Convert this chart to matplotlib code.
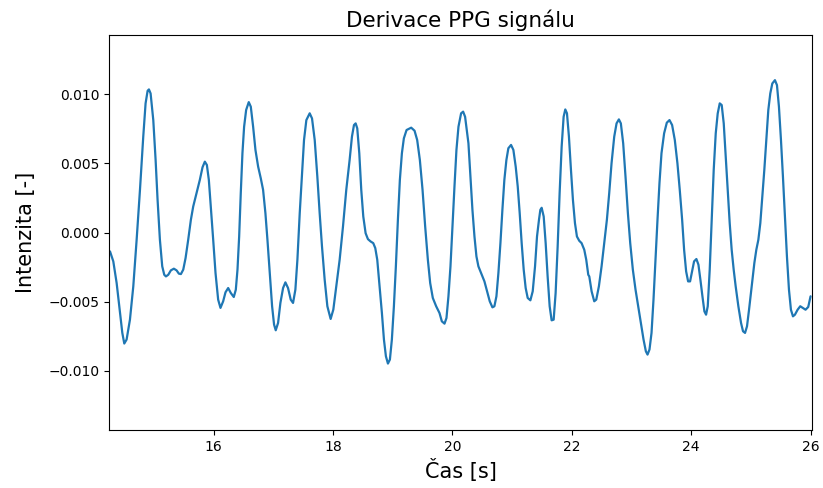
import matplotlib
matplotlib.use("Agg")
import matplotlib.pyplot as plt
from matplotlib.ticker import FuncFormatter
import numpy as np

plt.rcParams["axes.unicode_minus"] = True

time_s = [
    14.262, 14.317, 14.373, 14.429, 14.468, 14.501, 14.540, 14.596, 14.652, 14.708,
    14.764, 14.819, 14.858, 14.892, 14.914, 14.942, 14.987, 15.026, 15.059, 15.098,
    15.137, 15.171, 15.199, 15.238, 15.282, 15.332, 15.377, 15.416, 15.450, 15.489,
    15.528, 15.572, 15.617, 15.656, 15.712, 15.767, 15.812, 15.851, 15.885, 15.918,
    15.951, 15.991, 16.030, 16.074, 16.113, 16.158, 16.197,
    16.242, 16.286, 16.336, 16.370, 16.398, 16.426, 16.453, 16.481, 16.509, 16.543,
    16.587, 16.621, 16.660, 16.699, 16.744, 16.788, 16.827, 16.866, 16.900, 16.939,
    16.978, 17.011, 17.039, 17.078, 17.117, 17.162, 17.201, 17.245, 17.290, 17.329,
    17.368, 17.402, 17.441, 17.480, 17.513, 17.552, 17.608, 17.647, 17.692, 17.736,
    17.775, 17.814, 17.859, 17.904, 17.959, 18.004, 18.054, 18.110, 18.166, 18.221,
    18.277, 18.316, 18.350, 18.378, 18.405, 18.439, 18.472, 18.506, 18.545, 18.584,
    18.629, 18.673, 18.707, 18.740, 18.779, 18.818, 18.852, 18.885, 18.919, 18.952,
    18.985, 19.019, 19.052, 19.086, 19.119, 19.153, 19.186, 19.231, 19.309, 19.365,
    19.409, 19.454, 19.499, 19.543, 19.588, 19.627, 19.671, 19.727, 19.783, 19.822,
    19.867, 19.900, 19.933, 19.967, 20.000, 20.034, 20.067, 20.101, 20.145, 20.179,
    20.212, 20.246,
    20.268, 20.302, 20.335, 20.369, 20.402, 20.435, 20.480, 20.536, 20.580, 20.625,
    20.670, 20.703, 20.737, 20.770, 20.804, 20.837, 20.870, 20.904, 20.937, 20.982,
    21.021, 21.060, 21.094, 21.127, 21.160, 21.194, 21.227, 21.261, 21.306, 21.345,
    21.384, 21.417, 21.450, 21.473, 21.495, 21.529, 21.562, 21.595, 21.629, 21.662,
    21.696, 21.729, 21.763, 21.796, 21.830, 21.863, 21.891, 21.919, 21.952, 21.986,
    22.019, 22.053, 22.086, 22.125, 22.164, 22.209, 22.242, 22.276,
    22.293, 22.332, 22.376, 22.410, 22.454, 22.499, 22.544, 22.588, 22.627, 22.666,
    22.711, 22.750, 22.789, 22.822, 22.861, 22.900, 22.940, 22.979, 23.023, 23.068,
    23.112, 23.157, 23.202, 23.241, 23.269, 23.302, 23.336, 23.369, 23.402, 23.436,
    23.469, 23.503, 23.547, 23.592, 23.637, 23.681, 23.726, 23.770, 23.809, 23.849,
    23.882, 23.916, 23.949, 23.982, 24.016, 24.049, 24.088, 24.122, 24.155, 24.189,
    24.222, 24.250, 24.278,
    24.311, 24.345, 24.378, 24.412, 24.445, 24.479, 24.512, 24.546, 24.579, 24.613,
    24.646, 24.679, 24.713, 24.746, 24.791, 24.836, 24.869, 24.903, 24.936, 24.970,
    25.014, 25.059, 25.092, 25.126, 25.159, 25.193, 25.226, 25.259, 25.293, 25.326,
    25.360, 25.404, 25.438, 25.471, 25.505, 25.538, 25.572, 25.605, 25.639, 25.672,
    25.706, 25.739, 25.784, 25.828, 25.873, 25.917, 25.962, 26.001,
]

intensity = [
    -0.00137, -0.00209, -0.00366, -0.00583, -0.00727, -0.00804, -0.00775, -0.00631, -0.00390, -0.00053,
    0.00309, 0.00694, 0.00935, 0.01026, 0.01036, 0.01007, 0.00814, 0.00525, 0.00236, -0.00053,
    -0.00245, -0.00306, -0.00318, -0.00306, -0.00274, -0.00262, -0.00274, -0.00298, -0.00301, -0.00269,
    -0.00185, -0.00053, 0.00092, 0.00188, 0.00285, 0.00381, 0.00472, 0.00513, 0.00489, 0.00381,
    0.00188, -0.00053, -0.00294, -0.00486, -0.00546, -0.00498, -0.00433,
    -0.00402, -0.00438, -0.00467, -0.00414, -0.00269, -0.00029, 0.00285, 0.00574, 0.00766, 0.00887,
    0.00944, 0.00911, 0.00766, 0.00598, 0.00477, 0.00393, 0.00309, 0.00140, -0.00053, -0.00294,
    -0.00534, -0.00667, -0.00708, -0.00655, -0.00510, -0.00402, -0.00361, -0.00402, -0.00486, -0.00510,
    -0.00414, -0.00197, 0.00140, 0.00429, 0.00670, 0.00814, 0.00863, 0.00826, 0.00670, 0.00405,
    0.00140, -0.00101, -0.00342, -0.00534, -0.00626, -0.00558, -0.00390, -0.00197, 0.00044, 0.00309,
    0.00525, 0.00694, 0.00778, 0.00790, 0.00754, 0.00574, 0.00309, 0.00116, -0.00005, -0.00048,
    -0.00065, -0.00077, -0.00113, -0.00197, -0.00390, -0.00583, -0.00775, -0.00896, -0.00949, -0.00920,
    -0.00775, -0.00534, -0.00245, 0.00092, 0.00381, 0.00574, 0.00682, 0.00742, 0.00759, 0.00737,
    0.00670, 0.00525, 0.00309, 0.00044, -0.00197, -0.00366, -0.00474, -0.00534, -0.00583, -0.00643,
    -0.00660, -0.00619, -0.00462, -0.00245, 0.00044, 0.00333, 0.00598, 0.00766, 0.00863, 0.00875,
    0.00838, 0.00718,
    0.00646, 0.00405, 0.00164, -0.00029, -0.00173, -0.00245, -0.00294, -0.00354, -0.00426, -0.00498,
    -0.00542, -0.00534, -0.00462, -0.00294, -0.00077, 0.00164, 0.00381, 0.00525, 0.00610, 0.00634,
    0.00598, 0.00477, 0.00333, 0.00140, -0.00077, -0.00269, -0.00402, -0.00474, -0.00491, -0.00426,
    -0.00245, -0.00029, 0.00092, 0.00164, 0.00179, 0.00116, -0.00077, -0.00318, -0.00534, -0.00636,
    -0.00631, -0.00438, -0.00101, 0.00285, 0.00622, 0.00838, 0.00891, 0.00863, 0.00694, 0.00453,
    0.00236, 0.00068, -0.00029, -0.00060, -0.00077, -0.00125, -0.00197, -0.00306,
    -0.00318, -0.00426, -0.00498, -0.00486, -0.00390, -0.00245, -0.00077, 0.00092, 0.00285, 0.00501,
    0.00694, 0.00790, 0.00819, 0.00790, 0.00646, 0.00405, 0.00140, -0.00077, -0.00269, -0.00414,
    -0.00534, -0.00655, -0.00775, -0.00860, -0.00884, -0.00847, -0.00727, -0.00486, -0.00197, 0.00092,
    0.00357, 0.00574, 0.00718, 0.00795, 0.00814, 0.00778, 0.00670, 0.00501, 0.00309, 0.00092,
    -0.00125, -0.00282, -0.00354, -0.00354, -0.00282, -0.00209, -0.00192, -0.00233, -0.00342, -0.00462,
    -0.00571, -0.00595, -0.00534,
    -0.00270, 0.00092, 0.00453, 0.00718, 0.00862, 0.00935, 0.00923, 0.00790, 0.00549, 0.00309,
    0.00068, -0.00125, -0.00270, -0.00390, -0.00534, -0.00655, -0.00715, -0.00727, -0.00679, -0.00559,
    -0.00390, -0.00221, -0.00125, -0.00053, 0.00068, 0.00260, 0.00453, 0.00670, 0.00887, 0.01007,
    0.01079, 0.01103, 0.01067, 0.00911, 0.00670, 0.00405, 0.00116, -0.00173, -0.00414, -0.00559,
    -0.00607, -0.00595, -0.00559, -0.00534, -0.00547, -0.00559, -0.00539, -0.00462,
]

x_ticks = [16, 18, 20, 22, 24, 26]
y_ticks = [-0.010, -0.005, 0.000, 0.005, 0.010]

fig = plt.figure(figsize=(8.23, 4.88), dpi=100)
ax = fig.add_axes([109.3 / 823, 1 - 430 / 488, (811.7 - 109.3) / 823, (430 - 35) / 488])
ax.plot(time_s, intensity, color="#1f77b4", linewidth=1.6,
        solid_joinstyle="round", solid_capstyle="round")
ax.set_xlim(14.25, 26.02)
ax.set_ylim(-0.0143, 0.0143)
ax.set_xticks(x_ticks)
ax.set_yticks(y_ticks)
ax.yaxis.set_major_formatter(
    FuncFormatter(lambda v, pos: f"{v:.3f}".replace("-", "\u2212") if abs(v) > 1e-12 else "0.000"))
ax.tick_params(labelsize=10)
ax.set_title("Derivace PPG signálu", fontsize=15.5)
ax.set_xlabel("Čas [s]", fontsize=15)
ax.set_ylabel("Intenzita [-]", fontsize=15, labelpad=9)
fig.savefig("out.png", dpi=100)
